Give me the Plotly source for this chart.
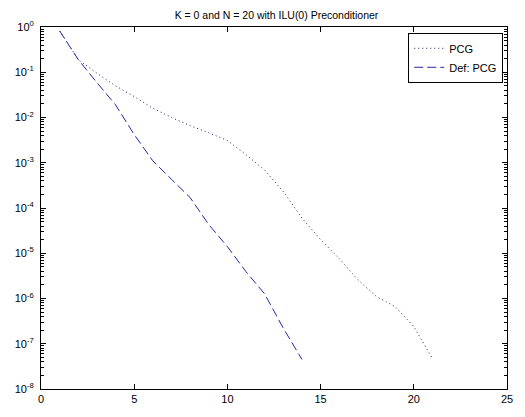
import plotly.graph_objects as go

iters_pcg = list(range(1, 22))
res_pcg = [0.82, 0.19, 0.095, 0.050, 0.029, 0.016, 0.010, 0.0066, 0.0046, 0.0031,
           0.0015, 0.00069, 0.00023, 6.0e-5, 2.0e-5, 7.6e-6, 2.6e-6, 1.1e-6,
           6.6e-7, 2.4e-7, 4.7e-8]

iters_def = list(range(1, 15))
res_def = [0.82, 0.19, 0.059, 0.019, 0.0042, 0.0011, 0.00043, 0.00017, 4.3e-5,
           1.4e-5, 3.9e-6, 1.26e-6, 2.2e-7, 4.5e-8]

title_text = "K = 0 and N = 20 with ILU(0) Preconditioner"
ytick_vals = [10.0 ** (-k) for k in range(0, 9)]
ytick_text = ["10<sup>%d</sup>" % (-k) if k else "10<sup>0</sup>" for k in range(0, 9)]
ytick_minor = [m * 10.0 ** (-k) for k in range(1, 9) for m in range(2, 10)]
xtick_vals = [0, 5, 10, 15, 20, 25]

line_color = "#2626a8"
font_fam = "Liberation Sans, Arial, sans-serif"

fig = go.Figure()
fig.add_trace(go.Scatter(x=iters_pcg, y=res_pcg, mode="lines", name="PCG",
                         line=dict(color="#1a1a80", width=1, dash="1px,3px")))
fig.add_trace(go.Scatter(x=iters_def, y=res_def, mode="lines", name="Def: PCG",
                         line=dict(color=line_color, width=1, dash="9px,4px")))

fig.update_layout(
    width=525, height=417,
    paper_bgcolor="white", plot_bgcolor="white",
    margin=dict(l=41, r=13, t=27, b=20),
    font=dict(family=font_fam, size=11, color="black"),
    title=dict(text=title_text, x=(41 + 471 / 2) / 525, xanchor="center",
               y=1 - 15 / 417, yanchor="middle", font=dict(size=10.5)),
    showlegend=True,
    legend=dict(x=0.992, y=0.984, xanchor="right", yanchor="top",
                bgcolor="white", bordercolor="black", borderwidth=1,
                font=dict(size=11), tracegroupgap=0, itemwidth=30),
)
fig.update_xaxes(range=[0, 25], tickvals=xtick_vals, ticks="inside", ticklen=5,
                 tickwidth=1, tickcolor="black",
                 showline=True, linecolor="black", linewidth=1, mirror="ticks",
                 showgrid=False, zeroline=False, tickfont=dict(size=11))
fig.layout.yaxis.update(type="log", range=[-8, 0], tickmode="array",
                        tickvals=ytick_vals, ticktext=ytick_text,
                        ticks="inside", ticklen=5, tickwidth=1, tickcolor="black",
                        ticklabelstandoff=4,
                        minor=dict(tickmode="array", tickvals=ytick_minor, ticks="inside",
                                   ticklen=3, tickwidth=1, tickcolor="black"),
                        showline=True, linecolor="black", linewidth=1, mirror="ticks",
                        showgrid=False, zeroline=False, tickfont=dict(size=11))

fig.write_html("out.html")
